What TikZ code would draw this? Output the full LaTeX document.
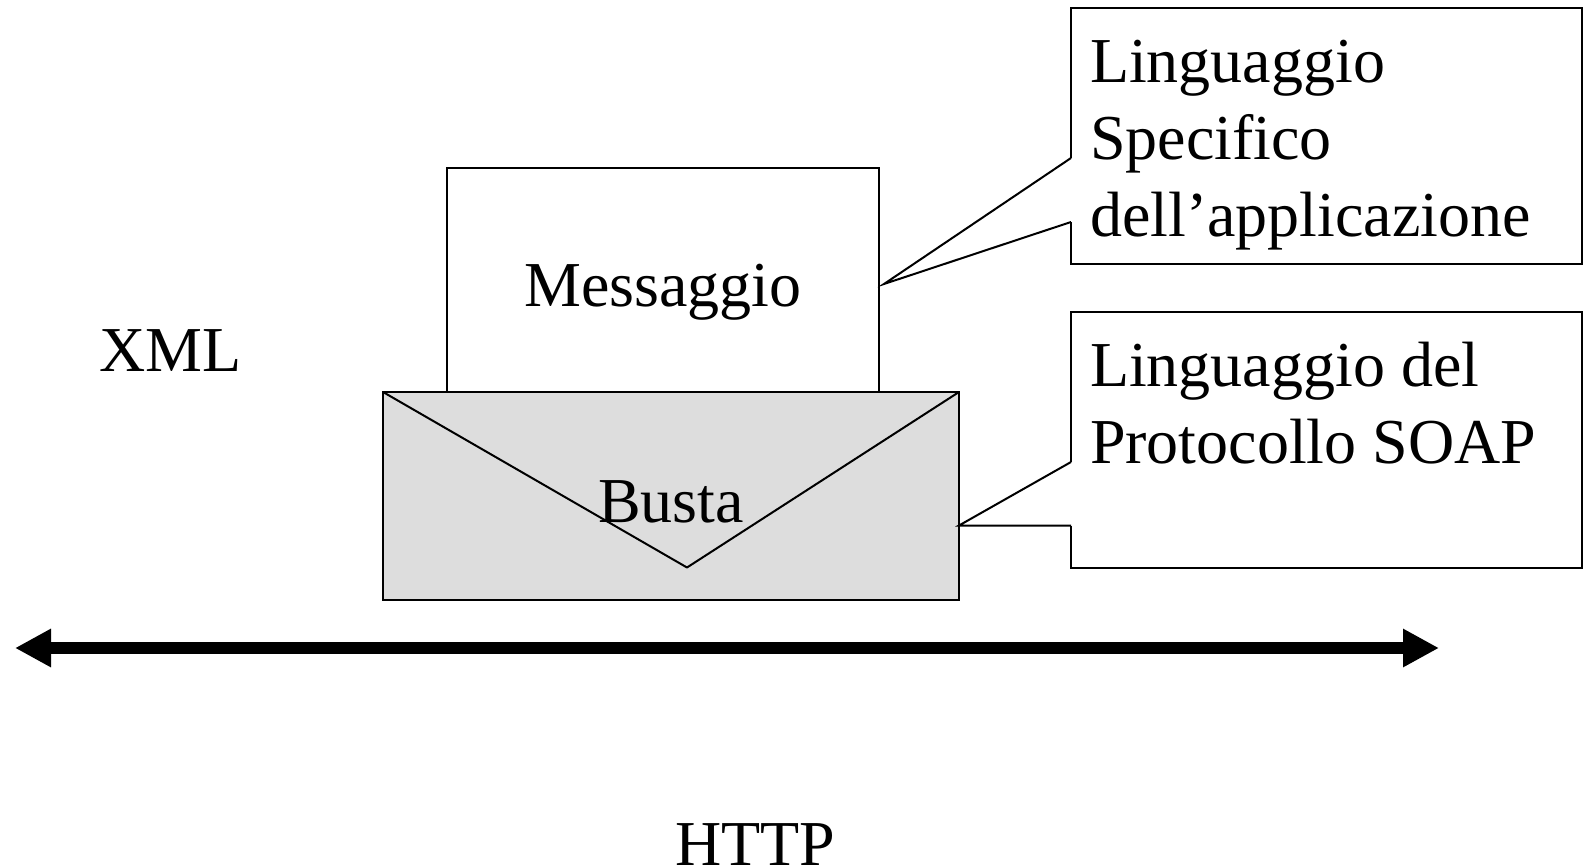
\documentclass[tikz,border=0pt]{standalone}
\usepackage{fontspec}
\setmainfont{Liberation Serif}
\usetikzlibrary{arrows.meta}
\definecolor{bustagray}{HTML}{DDDDDD}
\tikzset{
  boxline/.style={draw=black, line width=2pt, inner sep=0pt, outer sep=0pt, anchor=north west},
  bigtext/.style={font=\fontsize{64}{76.8}\selectfont, inner sep=0pt, outer sep=0pt},
  notetext/.style={bigtext, align=left, anchor=north west, xshift=19pt, yshift=-30pt}
}
\begin{document}
\begin{tikzpicture}[x=1pt, y=-1pt]
 \useasboundingbox (0,0) rectangle (1583,867);
 \node[boxline, minimum width=432pt, minimum height=224pt] (msgbox) at (447,168) {};
 \node[boxline, fill=bustagray, minimum width=576pt, minimum height=207.5pt] (envbox) at (383,392) {};
 \coordinate (envtip) at (687,567.5);
 \draw[line width=2pt, line join=round] (envbox.north west) -- (envtip) -- (envbox.north east);
 \node[bigtext, anchor=base] (msgtext) at (663,306) {Messaggio};
 \node[bigtext, anchor=base] (envtext) at (671,522) {Busta};
 \node[bigtext, anchor=base] (xmltext) at (170.5,371) {XML};
 \node[bigtext, anchor=base] (httptext) at (755,865) {HTTP};

 \node[boxline, minimum width=511pt, minimum height=256pt] (specbox) at (1071,8) {};
 \node[notetext, yshift=-2.5pt] (spectext) at (specbox.north west) {Linguaggio\\Specifico\\dell’applicazione};
 \coordinate (specA) at (1071,158);
 \coordinate (specB) at (1071,222);
 \coordinate (spectip) at (884,284);
 \draw[white, line width=3pt] (specA) -- (specB);
 \draw[line width=2pt, line join=miter] (specA) -- (spectip) -- (specB);

 \node[boxline, minimum width=511pt, minimum height=256pt] (protobox) at (1071,312) {};
 \node[notetext] (prototext) at (protobox.north west) {Linguaggio del\\Protocollo SOAP};
 \coordinate (protoA) at (1071,462);
 \coordinate (protoB) at (1071,525.5);
 \coordinate (prototip) at (959,525.5);
 \draw[white, line width=3pt] (protoA) -- (protoB);
 \draw[line width=2pt] (protoA) -- (prototip) -- (protoB);

 \coordinate (httpL) at (15,648);
 \coordinate (httpR) at (1439,648);
 \draw[{Triangle[length=36pt,width=36pt]}-{Triangle[length=36pt,width=36pt]}, line width=12pt] (httpL) -- (httpR);
\end{tikzpicture}
\end{document}
